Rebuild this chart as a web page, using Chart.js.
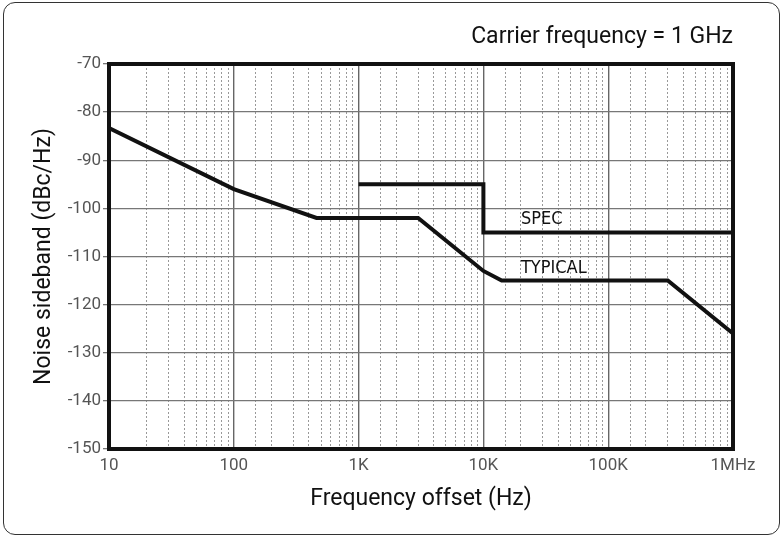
<!DOCTYPE html>
<html>
<head>
<meta charset="utf-8">
<title>Noise sideband</title>
<script src="https://cdn.jsdelivr.net/npm/chart.js@4.4.1/dist/chart.umd.min.js"></script>
<style>
  html, body { margin: 0; padding: 0; background: #fff; }
  .wrap { position: relative; width: 783px; height: 537px; }
  .frame {
    position: absolute; left: 3px; top: 2px; width: 777px; height: 533px;
    border: 1.5px solid #333; border-radius: 12px; box-sizing: border-box;
    pointer-events: none;
  }
  canvas { position: absolute; left: 0; top: 0; }
</style>
</head>
<body>
<div class="wrap">
  <canvas id="noise" width="783" height="537"></canvas>
  <div class="frame"></div>
</div>
<script>
// offset frequency (Hz) and sideband level (dBc/Hz)
const typicalFreq = [10, 100, 460, 3000, 10000, 14000, 300000, 1000000];
const typicalDbc = [-83.3, -96, -102, -102, -113, -115, -115, -126];

const specFreq = [1000, 10000, 10000, 1000000];
const specDbc = [-95, -95, -105, -105];

const decadeValues = [10, 100, 1000, 10000, 100000, 1000000];
const decadeLabels = ['10', '100', '1K', '10K', '100K', '1MHz'];

const curveNames = ['SPEC', 'TYPICAL'];
const nameFreq = [20000, 20000];
const nameDbc = [-102.3, -112.5];

const toPoints = (xs, ys) => xs.map((x, i) => ({ x: x, y: ys[i] }));

function decadeIndex(v) {
  if (v == null) return -1;
  return decadeValues.findIndex(d => Math.abs(d - v) < d * 1e-6);
}

const tickFont = { family: 'Roboto', size: 17 };
const titleFont = { family: 'Roboto', size: 23, weight: 'normal' };

// heavy box around the plot area
const plotFrame = {
  id: 'plotFrame',
  afterDatasetsDraw(chart) {
    const { ctx, chartArea: a } = chart;
    ctx.save();
    ctx.lineWidth = 4;
    ctx.strokeStyle = '#111';
    ctx.strokeRect(a.left, a.top, a.right - a.left, a.bottom - a.top);
    ctx.restore();
  }
};

// SPEC / TYPICAL captions next to the curves
const curveCaptions = {
  id: 'curveCaptions',
  afterDatasetsDraw(chart) {
    const { ctx, scales } = chart;
    ctx.save();
    ctx.font = '18px "Liberation Sans Narrow", "DejaVu Sans Condensed", sans-serif';
    ctx.fillStyle = '#111';
    ctx.textAlign = 'left';
    ctx.textBaseline = 'middle';
    curveNames.forEach((name, i) => {
      ctx.fillText(name, scales.x.getPixelForValue(nameFreq[i]), scales.y.getPixelForValue(nameDbc[i]));
    });
    ctx.restore();
  }
};

new Chart(document.getElementById('noise'), {
  type: 'line',
  data: {
    datasets: [
      {
        label: 'TYPICAL',
        data: toPoints(typicalFreq, typicalDbc),
        borderColor: '#111',
        borderWidth: 4,
        pointRadius: 0,
        tension: 0,
        fill: false
      },
      {
        label: 'SPEC',
        data: toPoints(specFreq, specDbc),
        borderColor: '#111',
        borderWidth: 4,
        pointRadius: 0,
        tension: 0,
        fill: false
      }
    ]
  },
  options: {
    responsive: false,
    animation: false,
    devicePixelRatio: 1,
    layout: { padding: { left: 0, right: 50, top: 0, bottom: 0 } },
    plugins: {
      legend: { display: false },
      tooltip: { enabled: false },
      title: {
        display: true,
        text: 'Carrier frequency = 1 GHz',
        align: 'end',
        color: '#111',
        font: titleFont,
        padding: { top: 23, bottom: 13.4 }
      }
    },
    scales: {
      x: {
        type: 'logarithmic',
        min: 10,
        max: 1000000,
        afterFit: s => { s.height = 88; },
        grid: {
          drawTicks: false,
          color: c => decadeIndex(c.tick && c.tick.value) >= 0 ? '#666' : '#999',
          lineWidth: c => decadeIndex(c.tick && c.tick.value) >= 0 ? 1.4 : 1
        },
        border: {
          display: false,
          dash: c => (c.tick && decadeIndex(c.tick.value) < 0) ? [2, 2] : []
        },
        ticks: {
          autoSkip: false,
          maxRotation: 0,
          padding: 7,
          color: '#555',
          font: tickFont,
          callback: v => {
            const i = decadeIndex(v);
            return i >= 0 ? decadeLabels[i] : '';
          }
        },
        title: {
          display: true,
          text: 'Frequency offset (Hz)',
          color: '#111',
          font: titleFont,
          padding: { top: 0, bottom: 24 }
        }
      },
      y: {
        min: -150,
        max: -70,
        afterFit: s => { s.width = 109; },
        grid: { color: '#777', lineWidth: 1.3, tickLength: 6, tickColor: '#777' },
        border: { display: false },
        ticks: { stepSize: 10, padding: 2, color: '#555', font: tickFont },
        title: {
          display: true,
          text: 'Noise sideband (dBc/Hz)',
          color: '#111',
          font: titleFont,
          padding: { top: 30, bottom: 0 }
        }
      }
    }
  },
  plugins: [plotFrame, curveCaptions]
});
</script>
</body>
</html>
